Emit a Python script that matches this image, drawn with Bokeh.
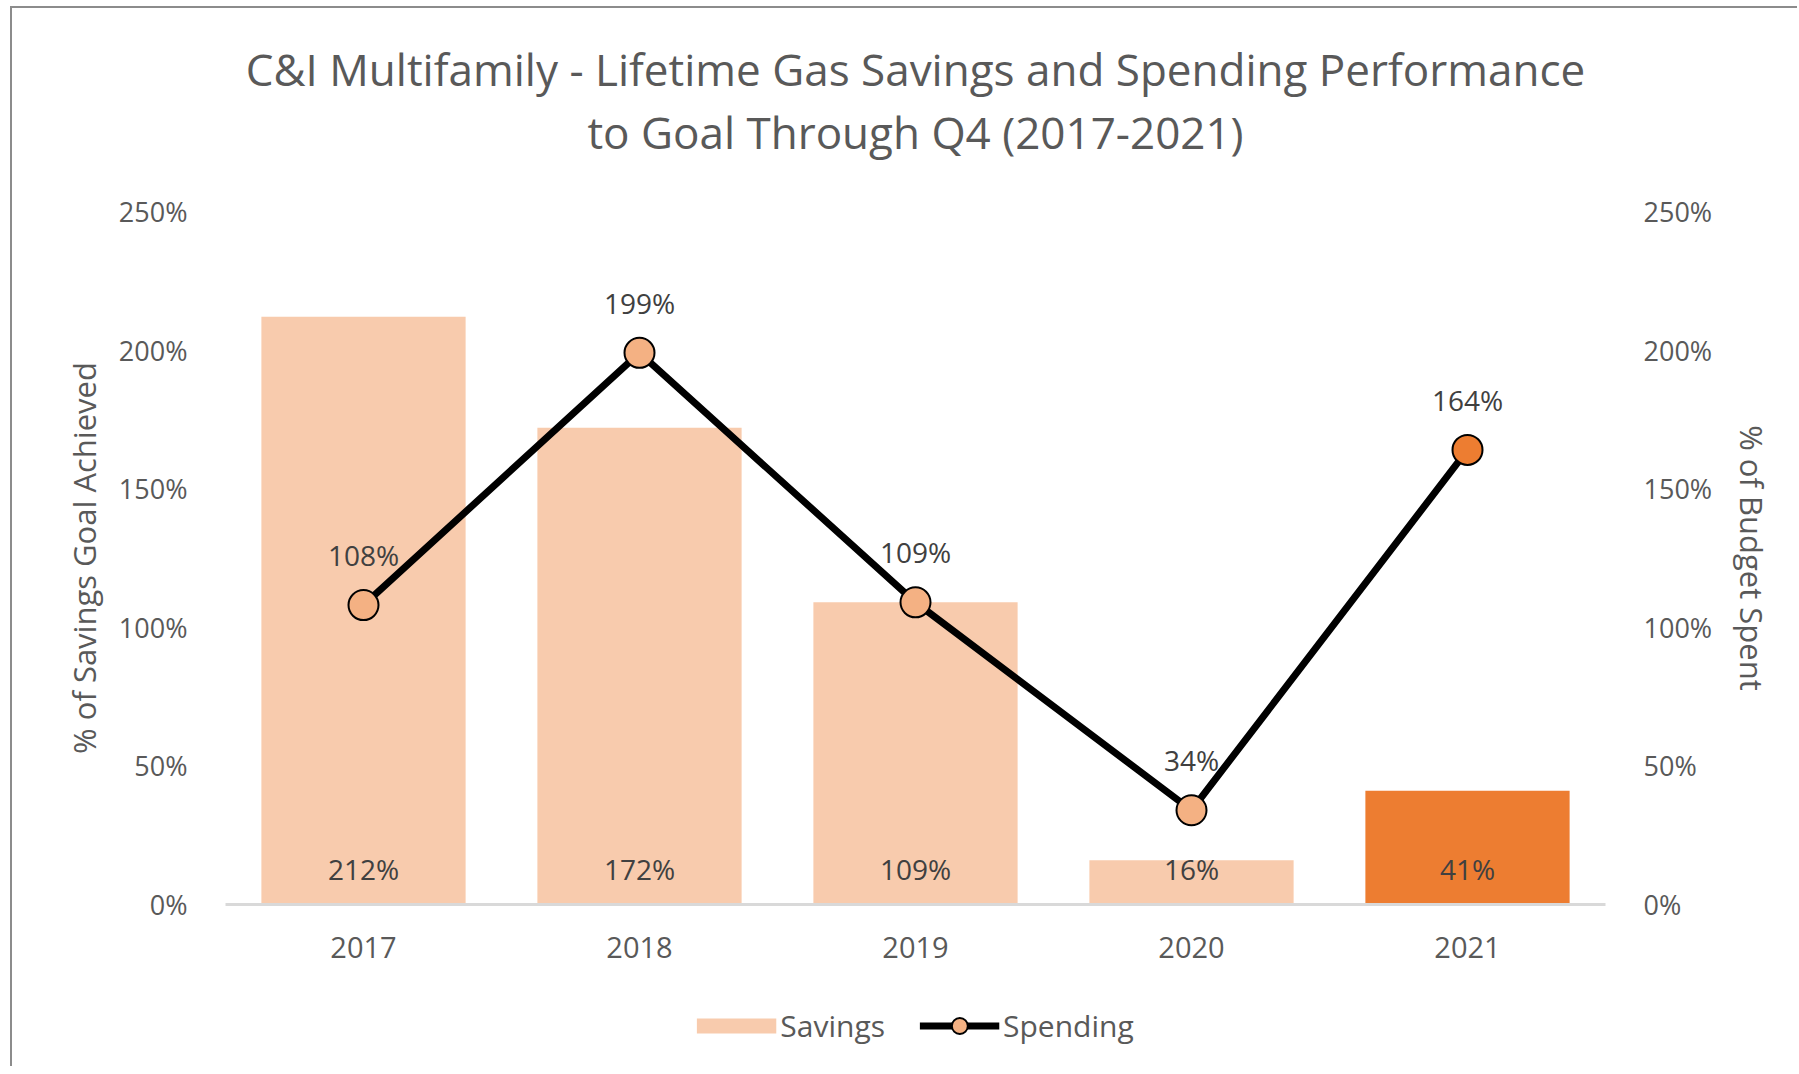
from bokeh.plotting import figure
from bokeh.layouts import column
from bokeh.models import (Range1d, FactorRange, LinearAxis, FixedTicker, PrintfTickFormatter,
                          ColumnDataSource, Legend, LegendItem, Label)
from bokeh.core.properties import value
from bokeh.embed import file_html
from bokeh.resources import INLINE

years = ["2017", "2018", "2019", "2020", "2021"]
savings = [212, 172, 109, 16, 41]
spending = [108, 199, 109, 34, 164]
y_ticks = [0, 50, 100, 150, 200, 250]
title_lines = ["C&I Multifamily - Lifetime Gas Savings and Spending Performance",
               "to Goal Through Q4 (2017-2021)"]
series_names = ["Savings", "Spending"]

LIGHT = "#F8CBAD"
DARK = "#ED7D31"
MARK = "#F4B183"
TXT = "#595959"
FONT = "Open Sans"

W = 1785
FRAME_W, FRAME_H = 1380, 693
LEFT, RIGHT = 213, 192
TITLE_H = 173

bar_colors = [LIGHT] * (len(years) - 1) + [DARK]
mark_colors = [MARK] * (len(years) - 1) + [DARK]

src = ColumnDataSource(dict(
    x=years, sav=savings, spe=spending,
    sav_lbl=[f"{v}%" for v in savings],
    spe_lbl=[f"{v}%" for v in spending],
    zero=[0] * len(years),
    bc=bar_colors, mc=mark_colors,
))

# ---- title strip (its frame is aligned with the chart frame by the column layout) ----
tf = figure(width=W, height=TITLE_H, x_range=Range1d(0, 1), y_range=Range1d(0, 1),
            output_backend="svg", toolbar_location=None, x_axis_type=None, y_axis_type=None,
            min_border_left=0, min_border_right=0, min_border_top=0, min_border_bottom=0)
tf.outline_line_color = None
tf.xgrid.grid_line_color = None
tf.ygrid.grid_line_color = None
for line_text, y_from_top in zip(title_lines, (60, 123)):
    tf.add_layout(Label(x=FRAME_W / 2, y=TITLE_H - y_from_top, x_units="screen",
                        y_units="screen", text=line_text, text_align="center",
                        text_baseline="middle", text_font=FONT, text_font_size="44px",
                        text_color=TXT))

# ---- main chart ----
p = figure(frame_width=FRAME_W, frame_height=FRAME_H, x_range=FactorRange(*years, range_padding=0),
           y_range=Range1d(0, 250), output_backend="svg", toolbar_location=None,
           min_border_left=LEFT, min_border_right=RIGHT, min_border_top=30, min_border_bottom=80,
           title=None)
p.extra_y_ranges = {"right": Range1d(0, 250)}
p.outline_line_color = None
p.background_fill_color = "white"
p.border_fill_color = "white"
p.xgrid.grid_line_color = None
p.ygrid.grid_line_color = None

yl = p.yaxis[0]
yl.ticker = FixedTicker(ticks=y_ticks)
yl.formatter = PrintfTickFormatter(format="%d%%")
yl.axis_label = "% of Savings Goal Achieved"
yr = LinearAxis(y_range_name="right", ticker=FixedTicker(ticks=y_ticks),
                formatter=PrintfTickFormatter(format="%d%%"), axis_label="% of Budget Spent")
p.add_layout(yr, "right")
for ax in (yl, yr):
    ax.axis_line_color = None
    ax.major_tick_line_color = None
    ax.minor_tick_line_color = None
    ax.major_label_text_font = FONT
    ax.major_label_text_font_size = "27px"
    ax.major_label_text_color = TXT
    ax.major_label_standoff = 32
    ax.axis_label_text_font = FONT
    ax.axis_label_text_font_size = "31px"
    ax.axis_label_text_font_style = "normal"
    ax.axis_label_text_color = TXT
yl.axis_label_standoff = 11
yr.axis_label_standoff = 16

xa = p.xaxis[0]
xa.axis_line_color = "#D9D9D9"
xa.axis_line_width = 3
xa.major_tick_line_color = None
xa.minor_tick_line_color = None
xa.major_label_text_font = FONT
xa.major_label_text_font_size = "29px"
xa.major_label_text_color = TXT
xa.major_label_standoff = 26

p.vbar(x="x", top="sav", width=0.74, source=src, fill_color="bc", line_color=None)
p.line(x="x", y="spe", source=src, line_color="black", line_width=7)
p.scatter(x="x", y="spe", source=src, size=30, fill_color="mc", line_color="black",
          line_width=2)

p.text(x="x", y="zero", text="sav_lbl", source=src, text_font=value(FONT), text_font_size="28px",
       text_color="#404040", text_align="center", text_baseline="middle", y_offset=-36)
p.text(x="x", y="spe", text="spe_lbl", source=src, text_font=value(FONT), text_font_size="28px",
       text_color="#404040", text_align="center", text_baseline="middle", y_offset=-50)

# ---- legend strip (legend proxies with no drawn data) ----
lf = figure(width=W, height=82, x_range=Range1d(0, 1), y_range=Range1d(0, 1),
            output_backend="svg", toolbar_location=None, x_axis_type=None, y_axis_type=None,
            min_border_left=0, min_border_right=0, min_border_top=0, min_border_bottom=0)
lf.outline_line_color = None
lf.xgrid.grid_line_color = None
lf.ygrid.grid_line_color = None
nan_src = ColumnDataSource(dict(x=[float("nan")], y=[float("nan")]))
sav_proxy = lf.line(x="x", y="y", source=nan_src, line_color=LIGHT, line_width=15)
spe_line = lf.line(x="x", y="y", source=nan_src, line_color="black", line_width=7)
spe_mark = lf.scatter(x="x", y="y", source=nan_src, size=30, fill_color=MARK,
                      line_color="black", line_width=2)
lg = Legend(items=[LegendItem(label=series_names[0], renderers=[sav_proxy]),
                   LegendItem(label=series_names[1], renderers=[spe_line, spe_mark])],
            location="center", orientation="horizontal", padding=0, margin=0, spacing=34,
            border_line_color=None, background_fill_alpha=0, label_text_font=FONT,
            label_text_font_size="30px", label_text_color=TXT, label_standoff=4,
            glyph_width=80, glyph_height=40)
lf.add_layout(lg, "center")

page = column(tf, p, lf, spacing=0,
              styles={"border-left": "2px solid #8c8c8c", "border-top": "2px solid #8c8c8c",
                      "margin-left": "10px", "margin-top": "6px"})

open("out.html", "w").write(file_html(page, INLINE))
